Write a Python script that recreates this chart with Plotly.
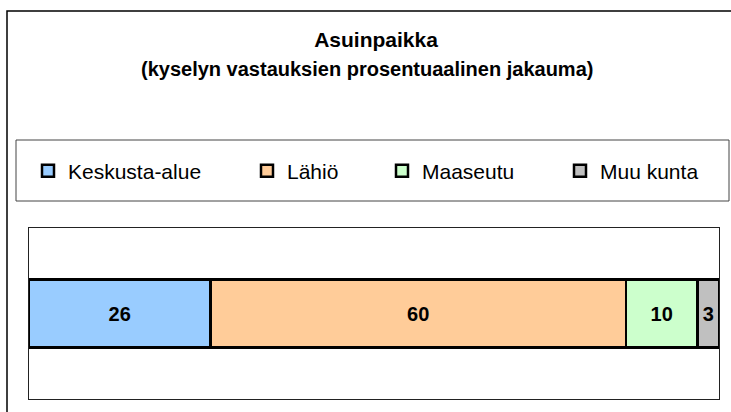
import plotly.graph_objects as go

# ---- data ----
categories = ["Keskusta-alue", "Lähiö", "Maaseutu", "Muu kunta"]
shares = [26.3, 60.2, 10.4, 3.1]          # percent
colors = ["#99CCFF", "#FFCC99", "#CCFFCC", "#C0C0C0"]
row_label = [""]
title_main = "Asuinpaikka"
title_sub = "(kyselyn vastauksien prosentuaalinen jakauma)"

FONT = "Liberation Sans, Arial, sans-serif"

W, H = 731, 412
ML, MR, MT, MB = 29, 12, 228, 13
PW, PH = W - ML - MR, H - MT - MB


def px_x(p):
    return (p - ML) / PW


def px_y(p):
    return (H - MB - p) / PH


legend_names = ["legend", "legend2", "legend3", "legend4"]
legend_left_px = [28, 247, 382, 560]

fig = go.Figure()
for i, (cat, val, col) in enumerate(zip(categories, shares, colors)):
    fig.add_trace(go.Bar(
        name=cat,
        y=row_label,
        x=[val],
        orientation="h",
        width=0.4,
        marker=dict(color=col, line=dict(color="black", width=2.5)),
        texttemplate="%{x:.0f}",
        textposition="inside",
        insidetextanchor="middle",
        textfont=dict(family=FONT, size=20, color="black", weight="bold"),
        legend=legend_names[i],
        hoverinfo="skip",
    ))

layout_legends = {}
for name, lx in zip(legend_names, legend_left_px):
    layout_legends[name] = dict(
        x=px_x(lx), xanchor="left",
        y=px_y(171), yanchor="middle",
        orientation="h",
        bgcolor="rgba(0,0,0,0)",
        borderwidth=0,
        font=dict(family=FONT, size=21, color="black"),
    )

fig.update_layout(
    width=W, height=H,
    margin=dict(l=ML, r=MR, t=MT, b=MB, pad=0),
    paper_bgcolor="white",
    plot_bgcolor="white",
    barmode="stack",
    showlegend=True,
    title=dict(
        text=f"<b>{title_main}</b>",
        font=dict(family=FONT, size=21, color="black"),
        x=376 / W, xanchor="center", xref="container",
        y=1 - 40 / H, yanchor="middle", yref="container",
    ),
    annotations=[
        dict(text=f"<b>{title_sub}</b>", xref="paper", yref="paper",
             x=px_x(367), y=px_y(69), xanchor="center", yanchor="middle",
             showarrow=False,
             font=dict(family=FONT, size=20, color="black")),
    ],
    xaxis=dict(range=[0, sum(shares)], showgrid=False, zeroline=False,
               showticklabels=False, ticks="", showline=True, mirror=True,
               linecolor="#222222", linewidth=1, fixedrange=True),
    yaxis=dict(range=[-0.5, 0.5], showgrid=False, zeroline=False,
               showticklabels=False, ticks="", showline=True, mirror=True,
               linecolor="#222222", linewidth=1, fixedrange=True),
    shapes=[
        # outer chart frame
        dict(type="rect", xref="paper", yref="paper",
             x0=px_x(7), x1=px_x(745), y0=px_y(425), y1=px_y(11),
             line=dict(color="black", width=1.5), fillcolor="rgba(0,0,0,0)",
             layer="below"),
        # legend box
        dict(type="rect", xref="paper", yref="paper",
             x0=px_x(16), x1=px_x(729), y0=px_y(201), y1=px_y(140),
             line=dict(color="#444444", width=1), fillcolor="rgba(0,0,0,0)",
             layer="below"),
    ],
    **layout_legends,
)

fig.write_html(
    "out.html",
    config={"displayModeBar": False},
    post_script="document.body.style.margin='0';document.body.style.padding='0';",
)
